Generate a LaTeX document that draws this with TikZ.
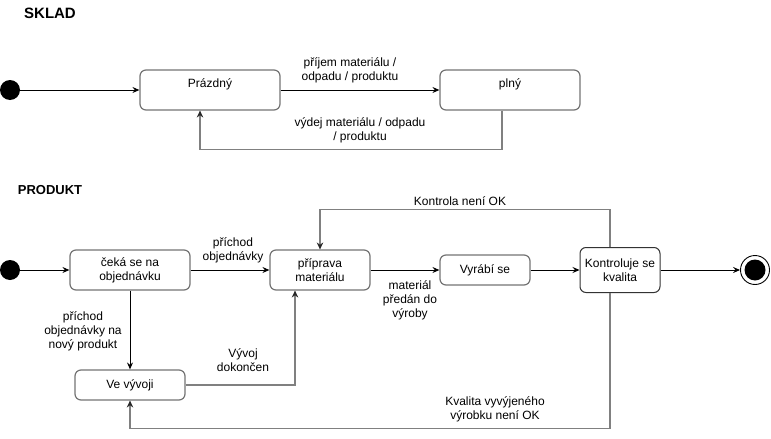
\documentclass[tikz,border=0pt]{standalone}
\usepackage{fontspec}
\setmainfont{Liberation Sans}
\usetikzlibrary{arrows.meta}

\begin{document}
\begin{tikzpicture}[
	x=1pt, y=-1pt, font=\fontsize{12}{14}\selectfont,
	state/.style={draw=black!55, line width=1.2pt, rounded corners=6pt, align=center, inner sep=0pt},
	go/.style={-{Stealth[length=7pt,width=6pt,inset=2.5pt]}, line width=0.9pt},
	back/.style={-{Stealth[length=7pt,width=6.5pt,inset=2.5pt,color=black!85,line width=0.6pt]}, draw=black!50, line width=1.6pt},
	lbl/.style={align=center, inner sep=0pt}]
	\useasboundingbox (0,0) rectangle (771,439);
	%\draw [help lines] (0,0) grid[step=50] (771,439);
	% SKLAD
	\node[font=\fontsize{15}{18}\selectfont\bfseries] (tS) at (50,13) {SKLAD};
	\node[circle, fill, inner sep=0pt, minimum size=20pt] (s1) at (10,90) {};
	\node[state, minimum width=140pt, minimum height=40pt] (pr) at (210,90) {Prázdný\\~};
	\node[state, minimum width=140pt, minimum height=40pt] (pl) at (510,90) {plný\\~};
	\draw[go] (s1) -- (pr);
	\draw[go] (pr) -- (pl);
	\draw[back] ([xshift=-8pt]pl.south) -- ++(0,39) -| ([xshift=-10pt]pr.south);
	\node[lbl] (lIn) at (350,70) {příjem materiálu /\\odpadu / produktu};
	\node[lbl] (lOut) at (360,130) {výdej materiálu / odpadu\\/ produktu};
	% PRODUKT
	\node[font=\fontsize{13}{16}\selectfont\bfseries] (tP) at (50,190) {PRODUKT};
	\node[circle, fill, inner sep=0pt, minimum size=20pt] (s2) at (10,270) {};
	\node[state, minimum width=120pt, minimum height=40pt] (ck) at (130,270) {čeká se na\\objednávku};
	\node[state, minimum width=100pt, minimum height=40pt] (pp) at (320,270) {příprava\\materiálu};
	\node[state, minimum width=110pt, minimum height=30pt] (vv) at (130,385) {Ve vývoji};
	\node[state, minimum width=90pt, minimum height=30pt] (vs) at (485,270) {Vyrábí se};
	\node[state, draw=black!80, line width=1pt, minimum width=80pt, minimum height=45pt] (kk) at (620,270) {Kontroluje se\\kvalita};
	\node[circle, draw, line width=0.9pt, inner sep=0pt, minimum size=29pt] (e) at (755,270) {};
	\node[circle, fill, inner sep=0pt, minimum size=21pt] at (e) {};
	\draw[go] (s2) -- (ck);
	\draw[go] (ck) -- (pp);
	\draw[go] (pp) -- (vs);
	\draw[go] (vs) -- (kk);
	\draw[go] (kk) -- (e);
	\draw[go] (ck) -- (vv);
	\draw[back] (vv) -| ([xshift=-25pt]pp.south);
	\draw[back] ([xshift=-10pt]kk.north) -- ++(0,-37.5) -| (pp.north);
	\draw[back] ([xshift=-10pt]kk.south) -- ++(0,135.5) -| (vv.south);
	\node[lbl] (l1) at (233,250.5) {příchod\\objednávky};
	\node[lbl] (l2) at (83,331) {příchod\\objednávky na\\nový produkt};
	\node[lbl] (l3) at (243,360.5) {Vývoj\\dokončen};
	\node[lbl] (l4) at (410,300) {materiál\\předán do\\výroby};
	\node[lbl] (l5) at (460,201) {Kontrola není OK};
	\node[lbl] (l6) at (495,409.5) {Kvalita vyvýjeného\\výrobku není OK};
\end{tikzpicture}
\end{document}
